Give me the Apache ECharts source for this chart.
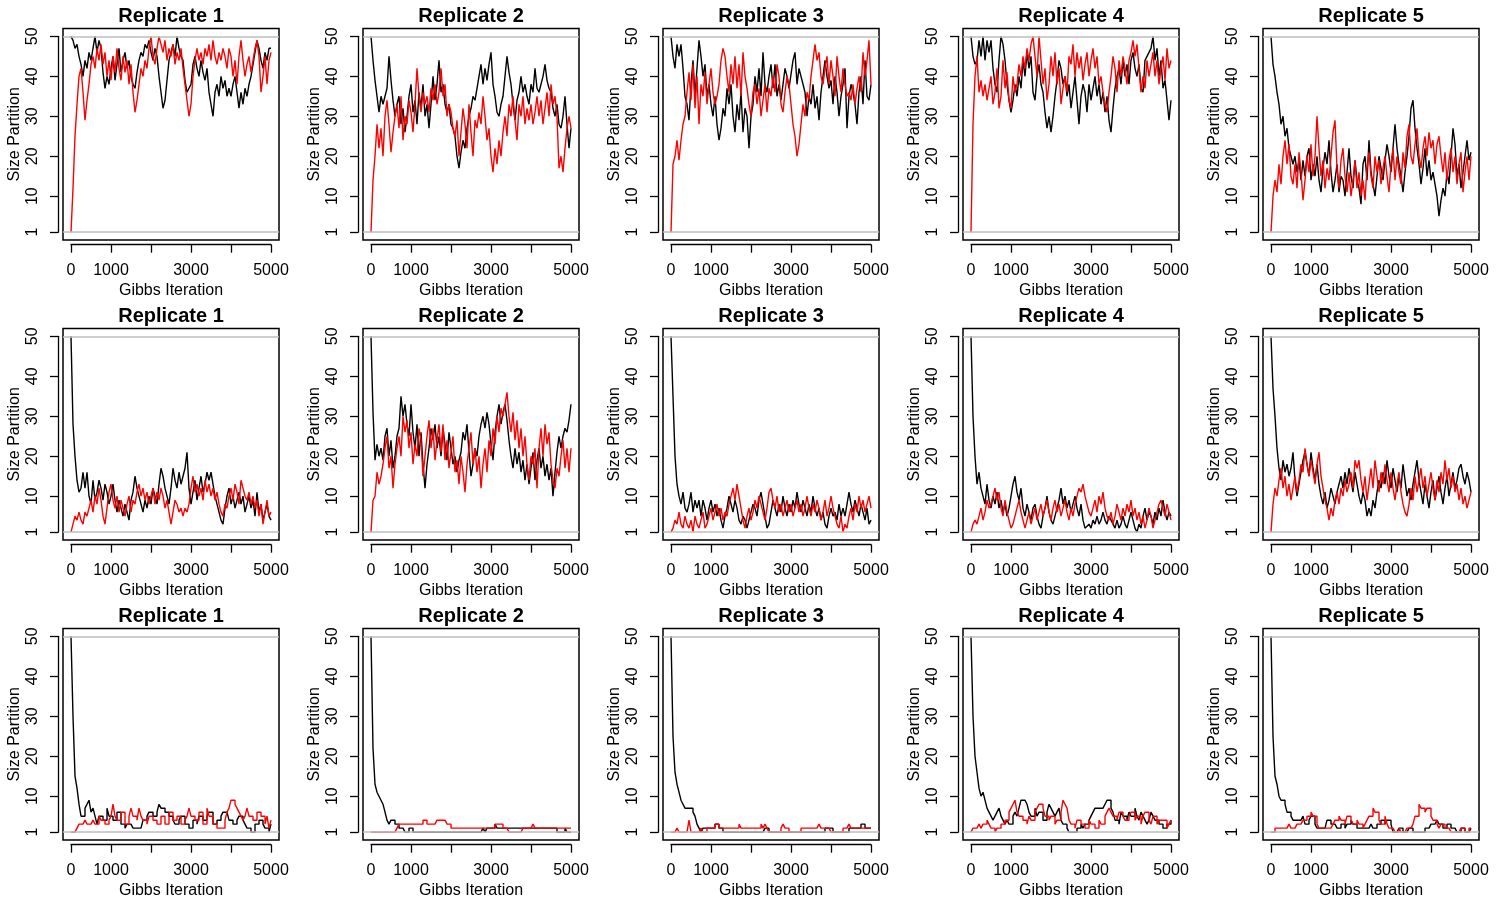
<!DOCTYPE html>
<html><head><meta charset="utf-8">
<script src="https://cdn.jsdelivr.net/npm/echarts@6/dist/echarts.min.js"></script>
<style>html,body{margin:0;padding:0;background:#fff}#c{width:1500px;height:900px}</style>
</head><body><div id="c"></div>
<script>
// ---------- labels / ticks ----------
const REPLICATES = ['Replicate 1','Replicate 2','Replicate 3','Replicate 4','Replicate 5'];
const X_NAME = 'Gibbs Iteration';
const Y_NAME = 'Size Partition';
const X_TICKS = [0,1000,2000,3000,4000,5000];
const X_LABELS = [0,1000,3000,5000];
const Y_TICKS = [1,10,20,30,40,50];
const REF_LINES = [1,50];
const X_RANGE = [0,5000];
const Y_RANGE = [1,50];
const STEP = 50; // iterations between recorded samples

// ---------- row 1 ----------
const row1_rep1_black = [50,49,47,48,45,43,40,44,42,46, 44,47,50,46,49,47,41,37,40,38, 42,45,39,43,47,41,44,46,42,44, 40,38,37,41,44,46,45,48,47,49, 46,44,47,45,40,36,32,34,39,44, 46,48,45,50,47,45,44,39,36,37, 38,43,45,42,40,44,41,39,42,36, 33,30,36,38,35,40,37,39,35,37, 35,38,40,36,32,36,33,37,35,38, 40,43,46,49,47,44,42,46,44,47, 47];
const row1_rep1_red = [1,12,25,33,40,42,36,29,34,38, 43,45,42,47,44,48,43,46,40,44, 39,45,41,47,42,39,45,41,44,38, 43,36,31,34,38,42,40,44,42,47, 50,45,43,47,50,48,46,49,44,47, 45,48,43,46,44,47,42,38,34,30, 33,40,44,47,44,46,43,47,45,48, 44,49,45,43,46,44,47,45,42,47, 45,40,44,38,45,49,44,40,43,45, 41,44,47,49,45,36,40,45,38,44, 46];
const row1_rep2_black = [50,44,39,35,31,35,33,35,37,45, 39,34,30,33,35,28,32,26,30,35, 38,31,34,28,36,32,38,30,33,27, 33,40,34,38,44,36,38,33,31,33, 28,27,25,20,17,21,24,22,27,30, 32,35,34,37,40,43,38,42,39,43, 46,38,35,31,30,33,35,40,45,41, 38,33,29,34,36,40,36,38,35,33, 38,36,42,37,36,38,40,43,39,37, 36,32,30,33,28,27,30,35,28,22, 27];
const row1_rep2_red = [1,14,20,28,22,27,20,30,34,28, 21,26,30,33,27,35,24,30,28,34, 31,26,33,42,35,31,36,33,35,31, 37,34,38,33,36,42,35,38,30,33, 31,27,25,29,20,26,32,28,22,33, 26,20,29,27,31,28,35,30,24,27, 20,16,22,18,24,20,26,30,25,33, 30,35,29,24,33,30,35,28,32,29, 33,28,31,35,30,34,28,32,36,30, 38,33,35,30,17,20,16,22,27,30, 27];
const row1_rep3_black = [50,45,42,48,45,48,42,35,33,29, 38,44,35,42,49,45,40,43,35,38, 33,30,35,28,24,27,32,30,37,33, 38,30,26,33,29,36,26,32,30,22, 30,33,40,36,42,35,46,38,36,40, 43,37,43,35,38,34,38,42,40,37, 37,44,46,38,42,40,38,36,30,35, 33,38,32,35,29,36,40,44,40,37, 39,33,40,36,30,35,38,42,27,35, 38,36,33,28,36,40,33,44,35,34, 38];
const row1_rep3_red = [1,18,20,24,19,24,28,30,36,41, 34,43,32,40,28,38,35,41,33,38, 42,36,33,35,38,44,47,45,40,36, 43,38,45,37,43,35,46,40,37,33, 30,36,38,33,37,30,34,38,31,37, 35,40,36,43,40,33,31,36,40,38, 33,28,25,20,23,28,33,30,36,34, 40,44,48,44,46,40,38,42,45,38, 44,40,35,45,40,36,42,38,35,36, 34,38,33,37,40,36,46,40,44,49, 38];
const row1_rep4_black = [50,45,43,44,49,45,50,44,49,46, 49,42,38,36,44,50,48,44,38,34, 31,34,38,35,40,37,44,40,46,42, 45,36,34,40,43,38,36,31,27,30, 26,30,35,39,44,42,38,40,35,38, 32,36,40,34,28,35,38,36,31,38, 34,37,40,35,38,33,36,31,35,29, 26,32,37,40,42,38,44,40,43,38, 44,46,42,40,43,37,36,44,44,46, 47,50,44,47,40,44,37,39,34,29, 34];
const row1_rep4_red = [1,28,40,45,36,39,35,38,34,37, 40,33,36,42,32,35,44,37,41,34, 32,40,36,38,43,40,45,42,47,44, 48,50,45,40,50,44,38,42,34,38, 45,40,46,38,42,33,37,40,36,45, 43,48,40,46,42,45,39,43,46,40, 44,47,42,45,38,40,36,33,31,36, 40,45,42,36,44,40,45,42,38,44, 46,49,45,48,42,36,40,37,44,40, 43,46,40,44,38,42,45,39,47,42, 44];
const row1_rep5_black = [50,43,40,36,33,28,30,25,27,22, 20,18,20,16,19,14,19,15,20,22, 14,18,15,20,14,11,17,21,18,24, 16,11,14,18,11,15,14,10,16,22, 15,12,19,14,12,8,18,20,14,24, 16,13,10,15,20,17,14,19,23,20, 16,22,28,22,18,15,11,16,20,25, 32,34,27,22,18,13,17,22,15,19, 14,16,13,10,5,9,12,10,16,13, 20,27,23,15,18,12,16,20,24,19, 21];
const row1_rep5_red = [1,10,14,11,18,13,20,24,18,23, 15,13,18,12,21,16,9,14,20,16, 23,15,20,30,22,15,19,12,17,14, 20,26,29,17,12,19,22,15,11,16, 10,14,19,12,16,10,14,9,17,21, 15,12,20,16,19,13,17,20,15,11, 18,22,14,20,16,13,21,17,25,28, 20,18,23,27,20,17,22,25,20,26, 22,24,18,23,25,20,16,21,14,19, 22,16,20,13,18,21,11,16,20,14, 20];

// ---------- row 2 ----------
const row2_rep1_black = [50,28,20,14,11,12,16,12,16,10, 8,14,9,11,14,12,9,13,11,8, 10,13,9,6,9,7,5,8,6,4, 9,11,15,12,10,8,6,9,7,10, 8,12,10,8,13,17,15,12,10,8, 12,17,14,12,16,13,15,17,21,12, 8,11,14,9,12,15,11,13,16,14, 16,13,10,8,6,4,3,7,10,12, 8,10,7,9,11,8,10,6,8,10, 7,9,5,11,6,8,4,6,8,5, 4];
const row2_rep1_red = [1,3,5,4,6,4,3,6,5,7, 9,6,10,8,12,9,5,3,7,11, 13,9,7,10,6,9,7,5,8,10, 6,9,8,11,13,10,12,9,11,8, 10,12,8,11,9,12,10,7,9,6, 3,6,9,8,6,7,5,7,6,8, 12,15,11,13,10,12,9,14,11,13, 10,12,9,11,8,6,5,8,7,10, 12,9,13,11,8,14,12,10,9,11, 8,10,7,9,5,8,3,6,9,5, 6];
const row2_rep2_black = [50,31,19,23,20,22,19,25,27,20, 24,17,20,25,27,35,30,33,28,25, 33,26,22,28,20,26,18,12,18,22, 27,24,28,22,25,20,27,23,19,26, 22,18,20,16,19,21,26,24,28,21, 15,18,22,20,25,28,30,27,31,28, 23,19,26,30,33,28,31,33,29,24, 20,17,22,18,21,16,19,14,18,13, 17,21,14,19,22,17,20,15,18,14, 17,10,16,21,25,22,25,27,26,29, 33];
const row2_rep2_red = [1,9,10,16,13,15,18,22,25,17, 20,12,18,22,25,20,30,26,29,22, 26,18,23,20,27,24,15,20,25,29, 22,27,19,24,28,21,28,19,24,17, 21,25,16,19,13,20,16,11,18,22, 26,18,22,16,20,12,18,22,16,24, 20,27,23,30,26,32,30,33,36,30, 26,31,24,29,22,27,20,25,18,14, 20,18,22,12,22,27,20,28,23,26, 18,14,12,17,15,20,24,17,22,16, 22];
const row2_rep3_black = [50,35,20,13,10,8,11,7,6,8, 11,6,9,7,9,5,9,7,4,7, 9,6,8,5,7,4,2,5,7,10, 8,6,9,7,4,3,5,4,2,4, 6,8,7,5,9,11,8,5,2,3, 6,9,7,5,8,6,10,7,5,8, 6,9,7,11,8,6,9,7,5,8, 6,10,7,5,7,4,6,3,2,5, 7,5,6,4,8,5,7,5,8,11, 8,6,9,7,5,8,6,4,7,3, 4];
const row2_rep3_red = [1,2,4,3,6,3,2,5,3,2, 4,1,5,3,2,4,6,2,3,5, 7,4,6,8,5,7,4,6,5,8, 10,12,9,13,10,7,4,2,5,7, 4,6,9,7,10,8,6,4,7,11, 12,9,7,10,6,8,5,7,9,6, 8,5,7,9,6,8,5,7,10,7, 5,8,6,9,7,4,6,9,5,7, 10,7,5,3,2,5,1,3,2,5, 7,4,8,6,10,7,9,6,8,10, 7];
const row2_rep4_black = [50,30,20,13,16,12,10,8,13,9, 7,10,8,11,7,9,6,8,5,7, 10,13,15,11,9,12,7,5,8,6, 4,7,8,5,3,2,5,7,10,6, 4,3,5,7,9,12,8,10,7,9, 6,8,10,7,5,8,4,2,2,3, 2,4,3,5,3,4,6,4,3,5, 4,3,2,4,2,3,5,3,2,4, 6,4,2,1,3,2,5,7,4,6, 5,3,6,4,7,5,9,6,4,6, 5];
const row2_rep4_red = [1,3,4,3,5,7,4,6,9,7, 8,10,12,9,11,7,5,9,6,4, 2,3,5,7,9,6,4,2,4,6, 3,5,7,4,6,8,5,7,9,6, 4,7,9,6,8,5,7,9,6,4, 7,5,8,10,12,11,13,10,8,6, 5,7,9,6,10,8,11,7,5,4, 6,3,5,8,6,4,7,5,8,6, 9,5,7,4,6,3,5,2,4,7, 5,2,4,6,8,9,7,5,8,6, 4];
const row2_rep5_black = [50,37,30,22,17,14,19,16,18,15, 17,21,14,10,13,16,19,21,18,15, 21,17,14,18,13,10,8,11,7,9, 12,10,8,11,13,15,12,16,13,17, 14,11,16,13,10,8,11,9,5,7, 5,9,7,11,14,12,16,13,19,15, 12,17,14,11,15,12,18,14,10,12, 9,13,16,19,14,11,8,13,10,7, 11,14,9,12,15,11,8,12,15,10, 13,16,12,14,17,18,15,13,16,14, 11];
const row2_rep5_red = [1,8,12,10,14,17,12,15,10,13, 9,12,15,11,14,18,16,22,18,15, 19,16,13,18,21,15,12,9,7,4, 7,5,9,11,8,12,10,14,11,13, 16,12,19,17,19,14,11,15,9,13, 17,12,19,15,11,16,13,18,14,11, 16,12,9,13,16,11,8,6,5,8, 12,9,15,11,14,17,12,15,10,13, 16,12,9,14,11,16,13,19,14,17, 12,15,11,13,9,12,8,10,7,9, 11];

// ---------- row 3 ----------
const row3_rep1_black = [50,30,15,12,8,5,5,7,8,9, 6,7,5,3,5,5,4,4,7,5, 5,4,4,6,6,3,3,2,3,3, 3,2,2,2,2,2,4,4,5,6, 6,5,5,6,8,7,7,6,6,5, 5,4,3,3,4,5,5,3,3,2, 2,4,4,3,5,5,4,4,5,6, 6,3,3,4,4,5,6,6,6,4, 4,3,3,4,5,5,4,3,2,2, 1,1,3,3,4,4,3,2,2,1, 3];
const row3_rep1_red = [1,1,1,2,3,3,3,4,3,3, 3,4,3,3,5,4,4,3,3,4, 5,8,5,4,4,6,6,3,3,5, 7,5,5,4,7,5,4,4,3,5, 5,4,4,3,3,5,5,3,3,6, 6,4,4,5,5,3,3,4,5,7, 5,5,4,4,6,6,3,3,7,5, 5,3,3,2,2,2,2,4,6,7, 9,9,8,7,6,5,4,5,7,5, 5,4,4,6,6,5,5,3,5,2, 4];
const row3_rep2_black = [50,22,13,11,10,9,8,6,4,3, 4,4,3,3,2,2,2,1,1,2, 2,1,1,1,1,1,1,1,1,1, 1,1,1,1,1,1,1,1,1,1, 1,1,1,1,1,1,1,1,1,1, 1,1,1,1,1,1,2,1,2,2, 2,2,3,2,2,2,2,2,2,2, 2,2,2,2,2,2,2,2,2,2, 2,2,2,2,2,2,2,2,2,2, 2,2,2,1,1,1,1,2,1,1, 1];
const row3_rep2_red = [1,1,1,1,1,1,1,1,1,1, 1,1,1,2,3,3,3,3,3,3, 3,3,3,3,3,3,4,4,3,3, 3,3,3,4,4,4,4,4,3,3, 2,2,2,2,2,2,2,2,2,2, 2,2,2,2,2,2,2,2,2,2, 2,2,3,3,3,3,2,2,2,1, 1,1,1,1,1,1,2,2,2,2, 2,3,2,2,2,2,2,2,2,2, 2,2,2,2,2,2,2,2,2,2, 2];
const row3_rep3_black = [50,25,16,13,11,9,8,7,7,7, 7,6,5,3,2,1,2,2,2,2, 2,2,3,3,2,2,1,1,1,1, 1,1,1,1,1,1,1,1,1,1, 1,1,1,1,1,1,1,2,2,1, 1,1,1,1,1,1,1,1,1,1, 1,1,1,1,1,1,1,1,1,1, 1,1,1,1,1,1,1,2,2,2, 2,1,1,1,1,1,1,1,1,2, 2,2,2,2,2,3,3,2,2,2, 2];
const row3_rep3_red = [1,1,1,2,1,1,1,1,1,4, 1,1,1,1,1,2,1,1,2,2, 2,2,3,3,2,2,2,2,2,2, 2,2,2,2,3,2,2,2,2,2, 2,2,2,2,2,3,2,3,2,1, 1,1,1,1,1,2,3,2,2,1, 1,1,1,1,1,2,2,2,2,2, 2,2,2,2,3,2,2,2,2,2, 1,1,1,1,1,1,2,2,2,3, 2,2,2,2,2,2,2,2,2,2, 2];
const row3_rep4_black = [50,30,20,16,12,10,11,9,7,6, 5,4,5,6,7,5,4,3,4,3, 3,5,6,5,7,9,9,9,8,6, 5,5,7,5,6,6,4,4,6,8, 7,6,5,6,7,4,3,3,2,1, 1,1,1,2,2,3,2,3,3,4, 5,6,7,7,7,7,7,8,9,9, 7,6,4,4,3,6,5,5,4,6, 5,5,7,5,4,6,5,4,3,4, 6,5,4,4,3,3,2,2,3,3, 4];
const row3_rep4_red = [1,2,2,2,3,2,3,3,4,3, 2,2,1,2,2,3,3,4,4,6, 7,8,9,6,5,5,4,4,3,5, 4,4,6,7,8,8,7,5,5,4, 5,5,3,4,4,6,9,8,7,4, 3,3,2,4,4,3,3,2,2,4, 3,3,2,2,4,3,3,5,6,7, 6,5,5,4,6,6,5,4,4,5, 6,6,4,5,5,3,5,6,6,4, 3,5,5,3,4,4,4,4,2,3, 4];
const row3_rep5_black = [50,25,15,13,10,9,9,8,6,6, 5,4,4,4,4,4,5,3,3,4, 5,5,3,2,2,2,2,2,4,4, 3,3,3,2,2,3,3,2,3,3, 4,3,3,2,2,2,2,2,2,2, 3,2,2,3,3,4,4,3,4,4, 3,1,1,1,2,2,1,1,1,2, 2,1,1,1,1,1,1,2,2,2, 3,3,3,4,3,3,2,2,3,3, 2,2,2,1,1,2,2,1,1,1, 2];
const row3_rep5_red = [1,1,2,2,2,2,2,2,2,3, 2,2,2,3,3,3,4,4,5,5, 6,5,5,3,2,2,2,2,2,2, 2,3,4,4,5,4,4,3,5,5, 4,3,3,4,3,3,2,3,4,5, 5,7,6,6,4,3,3,5,3,2, 2,2,1,1,2,1,1,1,2,2, 2,3,5,5,8,7,7,6,7,7, 5,4,4,3,2,3,3,2,2,2, 1,1,1,1,1,2,2,1,1,2, 2];

const PANELS = [
  [row1_rep1_black,row1_rep1_red],[row1_rep2_black,row1_rep2_red],[row1_rep3_black,row1_rep3_red],[row1_rep4_black,row1_rep4_red],[row1_rep5_black,row1_rep5_red],
  [row2_rep1_black,row2_rep1_red],[row2_rep2_black,row2_rep2_red],[row2_rep3_black,row2_rep3_red],[row2_rep4_black,row2_rep4_red],[row2_rep5_black,row2_rep5_red],
  [row3_rep1_black,row3_rep1_red],[row3_rep2_black,row3_rep2_red],[row3_rep3_black,row3_rep3_red],[row3_rep4_black,row3_rep4_red],[row3_rep5_black,row3_rep5_red]
];

// ---------- layout / style ----------
const FONT = '"Liberation Sans", Arial, Helvetica, sans-serif';
const PAD = 0.04;           // R's 4% axis extension
const L = {left0:63, top0:28.5, boxW:216, boxH:211.5, dx:300, dy:300};
const AX_COLOR = '#000';

function xy(vals){ return vals.map((v,i)=>[i*STEP, v]); }

const grid=[], xAxis=[], yAxis=[], series=[], title=[];
PANELS.forEach((p,k)=>{
  const r=Math.floor(k/5), c=k%5;
  const bx=L.left0+c*L.dx, by=L.top0+r*L.dy;
  const f=PAD/(1+2*PAD);
  const ix=bx+L.boxW*f, iw=L.boxW/(1+2*PAD);
  const iy=by+L.boxH*f, ih=L.boxH/(1+2*PAD);
  const xs=(X_RANGE[1]-X_RANGE[0])*PAD, ys=(Y_RANGE[1]-Y_RANGE[0])*PAD;
  const gb=2*k, ga=2*k+1;
  grid.push({left:bx, top:by, width:L.boxW, height:L.boxH, show:true, borderColor:'#000', borderWidth:1.5, backgroundColor:'rgba(0,0,0,0)'});
  grid.push({left:ix, top:iy, width:iw, height:ih, show:false});
  xAxis.push({gridIndex:gb, type:'value', min:X_RANGE[0]-xs, max:X_RANGE[1]+xs, show:false});
  yAxis.push({gridIndex:gb, type:'value', min:Y_RANGE[0]-ys, max:Y_RANGE[1]+ys, show:false});
  xAxis.push({gridIndex:ga, type:'value', min:X_RANGE[0], max:X_RANGE[1], position:'bottom', offset:12.5,
    axisLine:{show:true, onZero:false, lineStyle:{color:AX_COLOR, width:1.3}},
    axisTick:{show:true, length:8, customValues:X_TICKS, lineStyle:{color:AX_COLOR, width:1.3}},
    axisLabel:{show:true, customValues:X_LABELS, formatter:v=>String(v), margin:18, color:'#000', fontSize:16, fontFamily:FONT},
    splitLine:{show:false},
    name:X_NAME, nameLocation:'middle', nameGap:38, nameTextStyle:{color:'#000', fontSize:16, fontFamily:FONT}});
  yAxis.push({gridIndex:ga, type:'value', min:Y_RANGE[0], max:Y_RANGE[1], position:'left', offset:13,
    axisLine:{show:true, onZero:false, lineStyle:{color:AX_COLOR, width:1.3}},
    axisTick:{show:true, length:8, customValues:Y_TICKS, lineStyle:{color:AX_COLOR, width:1.3}},
    axisLabel:{show:true, customValues:Y_TICKS, formatter:v=>String(v), rotate:90, margin:17, color:'#000', fontSize:16, fontFamily:FONT},
    splitLine:{show:false},
    name:Y_NAME, nameLocation:'middle', nameGap:35, nameTextStyle:{color:'#000', fontSize:16, fontFamily:FONT}});
  series.push({type:'line', xAxisIndex:gb, yAxisIndex:gb, data:[], z:1, silent:true,
    markLine:{silent:true, symbol:'none', animation:false, label:{show:false},
      lineStyle:{color:'#bebebe', type:'solid', width:1.5},
      data:REF_LINES.map(v=>({yAxis:v}))}});
  const step = r===2 ? 'end' : false;
  series.push({type:'line', xAxisIndex:gb, yAxisIndex:gb, data:xy(p[0]), showSymbol:false, symbol:'none', step,
    lineStyle:{color:'#000', width:1.4}, itemStyle:{color:'#000'}, z:2, silent:true});
  series.push({type:'line', xAxisIndex:gb, yAxisIndex:gb, data:xy(p[1]), showSymbol:false, symbol:'none', step,
    lineStyle:{color:'#ff0000', width:1.4}, itemStyle:{color:'#ff0000'}, z:3, silent:true});
  title.push({text:REPLICATES[c], left:bx+L.boxW/2, top:6+r*L.dy, textAlign:'center', padding:0,
    textStyle:{fontSize:20, fontWeight:'bold', color:'#000', fontFamily:FONT}});
});

const chart = echarts.init(document.getElementById('c'), null, {renderer:'canvas'});
chart.setOption({animation:false, backgroundColor:'#fff', title, grid, xAxis, yAxis, series, tooltip:{show:false}});
</script>
</body></html>
